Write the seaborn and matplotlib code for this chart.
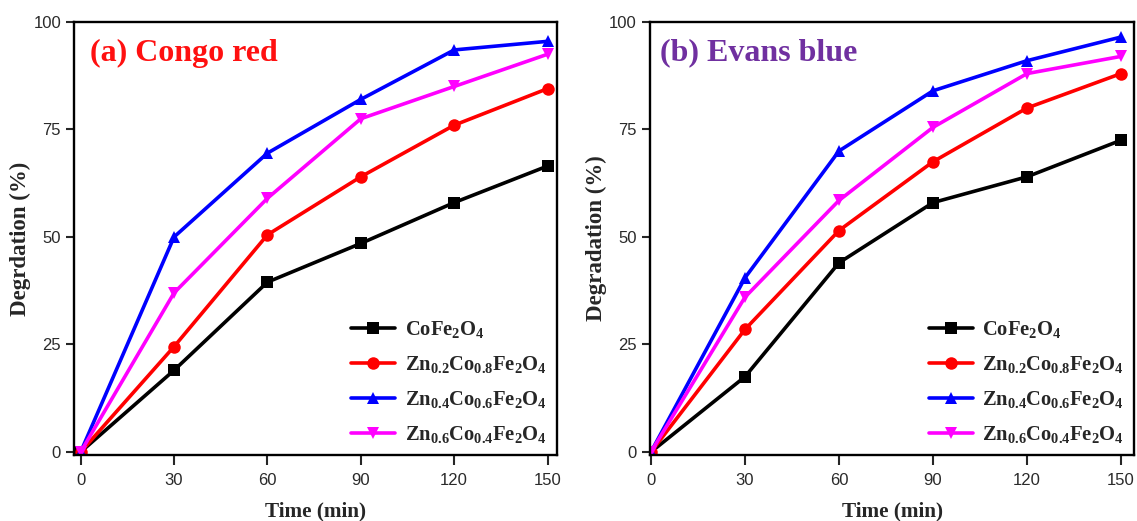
import matplotlib
matplotlib.use("Agg")
import matplotlib.pyplot as plt
import seaborn as sns
import pandas as pd

time_min = [0, 30, 60, 90, 120, 150]
samples = [r"CoFe$_2$O$_4$",
           r"Zn$_{0.2}$Co$_{0.8}$Fe$_2$O$_4$",
           r"Zn$_{0.4}$Co$_{0.6}$Fe$_2$O$_4$",
           r"Zn$_{0.6}$Co$_{0.4}$Fe$_2$O$_4$"]

# (a) Congo red
congo_co = [0, 19, 39.5, 48.5, 58, 66.5]
congo_zn02 = [0, 24.5, 50.5, 64, 76, 84.5]
congo_zn04 = [0, 50, 69.5, 82, 93.5, 95.5]
congo_zn06 = [0, 37, 59, 77.5, 85, 92.5]

# (b) Evans blue
evans_co = [0, 17.5, 44, 58, 64, 72.5]
evans_zn02 = [0, 28.5, 51.5, 67.5, 80, 88]
evans_zn04 = [0, 40.5, 70, 84, 91, 96.5]
evans_zn06 = [0, 36, 58.5, 75.5, 88, 92]

colors = ["#000000", "#FF0000", "#0000FF", "#FF00FF"]
markers = ["s", "o", "^", "v"]


def long_df(series):
    rows = []
    for name, vals in zip(samples, series):
        for t, v in zip(time_min, vals):
            rows.append({"time": t, "deg": v, "sample": name})
    return pd.DataFrame(rows)


df_a = long_df([congo_co, congo_zn02, congo_zn04, congo_zn06])
df_b = long_df([evans_co, evans_zn02, evans_zn04, evans_zn06])

sns.set_style("ticks")
plt.rcParams["mathtext.fontset"] = "custom"
plt.rcParams["mathtext.rm"] = "Liberation Serif:bold"
plt.rcParams["mathtext.it"] = "Liberation Serif:bold"
plt.rcParams["mathtext.bf"] = "Liberation Serif:bold"
plt.rcParams["mathtext.default"] = "rm"
plt.rcParams["font.family"] = ["Liberation Sans", "DejaVu Sans"]

fig = plt.figure(figsize=(11.37, 5.21), dpi=100)
ax_a = fig.add_axes([0.0653, 0.1267, 0.4245, 0.8311])
ax_b = fig.add_axes([0.5717, 0.1267, 0.4261, 0.8311])

serif_bold = {"family": "Liberation Serif", "weight": "bold"}

panels = [
    (ax_a, df_a, "(a) Congo red", "#FF1010", "Degrdation (%)", (-2.06, 153.0), 0.033),
    (ax_b, df_b, "(b) Evans blue", "#7030A0", "Degradation (%)", (-0.3, 154.3), 0.021),
]

for ax, df, title, tcol, ylab, xlim, tx in panels:
    sns.lineplot(data=df, x="time", y="deg", hue="sample", style="sample",
                 hue_order=samples, style_order=samples,
                 palette=colors, markers=markers, dashes=False,
                 linewidth=2.6, markersize=9, markeredgewidth=0, ax=ax)
    ax.set_xlim(*xlim)
    ax.set_ylim(-0.7, 100)
    ax.set_xticks(time_min)
    ax.set_yticks([0, 25, 50, 75, 100])
    ax.tick_params(axis="x", direction="out", length=7, width=1.5, pad=6,
                   labelsize=12, labelcolor="#2a2a2a", top=False)
    ax.tick_params(axis="y", direction="out", length=6, width=1.5, pad=3.5,
                   labelsize=12, labelcolor="#2a2a2a", right=False)
    for sp in ax.spines.values():
        sp.set_linewidth(1.7)
        sp.set_color("black")
        sp.set_visible(True)
    ax.set_xlabel("Time (min)", fontdict=dict(serif_bold, size=15.3), labelpad=10)
    ax.set_ylabel(ylab, fontdict=dict(serif_bold, size=16.5), labelpad=1.5)
    ax.text(tx, 0.928, title, transform=ax.transAxes, ha="left", va="center",
            color=tcol, fontsize=23, fontfamily="Liberation Serif", fontweight="bold")
    handles, labels = ax.get_legend_handles_labels()
    ax.legend(handles, labels, loc="lower right", frameon=False,
              prop={"family": "Liberation Serif", "weight": "bold", "size": 14.8},
              handlelength=2.15, handletextpad=0.45, labelspacing=0.68,
              borderaxespad=0.1)

fig.savefig("out.png", dpi=100)
